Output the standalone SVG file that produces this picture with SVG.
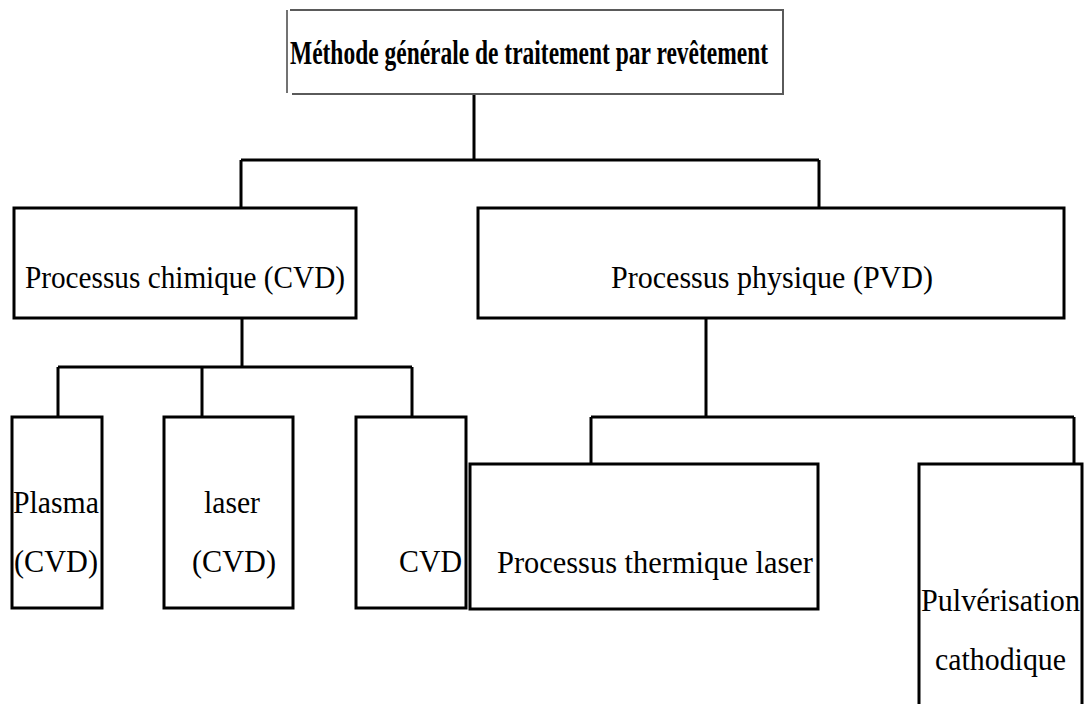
<svg xmlns="http://www.w3.org/2000/svg" width="1086" height="704" viewBox="0 0 1086 704">
<style>
.box{fill:#fff;stroke:#000;stroke-width:3}
.conn{fill:none;stroke:#000;stroke-width:3}
.t{font-family:"Liberation Serif","Times New Roman",serif;font-size:31px;fill:#000}
.title{font-family:"Liberation Serif","Times New Roman",serif;font-size:33px;font-weight:bold;fill:#000}
</style>
<rect width="1086" height="704" fill="#fff"/>
<g id="connectors">
<path class="conn" d="M474,94 V160 M241,160 H819 M241,160 V208 M819,160 V208"/>
<path class="conn" d="M242,318 V367 M58,367 H412 M58,367 V417 M202,367 V417 M412,367 V417"/>
<path class="conn" d="M706,318 V417 M591,417 H1074 M591,417 V464 M1074,417 V464"/>
</g>
<g id="root">
<path d="M287,10 V93" fill="none" stroke="#444" stroke-width="1.5"/>
<path d="M290,10 H783 V94 H292" fill="none" stroke="#5a5a5a" stroke-width="2"/>
<text class="title" x="290" y="64" textLength="478" lengthAdjust="spacingAndGlyphs">Méthode générale de traitement par revêtement</text>
</g>
<g id="cvd">
<rect class="box" x="14" y="208" width="342" height="110"/>
<text class="t" x="25" y="288" textLength="320" lengthAdjust="spacingAndGlyphs">Processus chimique (CVD)</text>
</g>
<g id="pvd">
<rect class="box" x="478" y="208" width="586" height="110"/>
<text class="t" x="611" y="288" textLength="322" lengthAdjust="spacingAndGlyphs">Processus physique (PVD)</text>
</g>
<g id="plasma">
<rect class="box" x="12" y="417" width="90" height="191"/>
<text class="t" x="13" y="513" textLength="86" lengthAdjust="spacingAndGlyphs">Plasma</text>
<text class="t" x="14" y="572" textLength="84" lengthAdjust="spacingAndGlyphs">(CVD)</text>
</g>
<g id="laser">
<rect class="box" x="164" y="417" width="129" height="191"/>
<text class="t" x="204" y="513" textLength="56" lengthAdjust="spacingAndGlyphs">laser</text>
<text class="t" x="192" y="572" textLength="84" lengthAdjust="spacingAndGlyphs">(CVD)</text>
</g>
<g id="cvd3">
<rect class="box" x="356" y="417" width="110" height="191"/>
<text class="t" x="399" y="572" textLength="63" lengthAdjust="spacingAndGlyphs">CVD</text>
</g>
<g id="thermique">
<rect class="box" x="470" y="464" width="348" height="145"/>
<text class="t" x="497" y="573" textLength="316" lengthAdjust="spacingAndGlyphs">Processus thermique laser</text>
</g>
<g id="pulverisation">
<rect class="box" x="919" y="464" width="163" height="260"/>
<text class="t" x="921" y="611" textLength="159" lengthAdjust="spacingAndGlyphs">Pulvérisation</text>
<text class="t" x="935" y="670" textLength="131" lengthAdjust="spacingAndGlyphs">cathodique</text>
</g>
</svg>
